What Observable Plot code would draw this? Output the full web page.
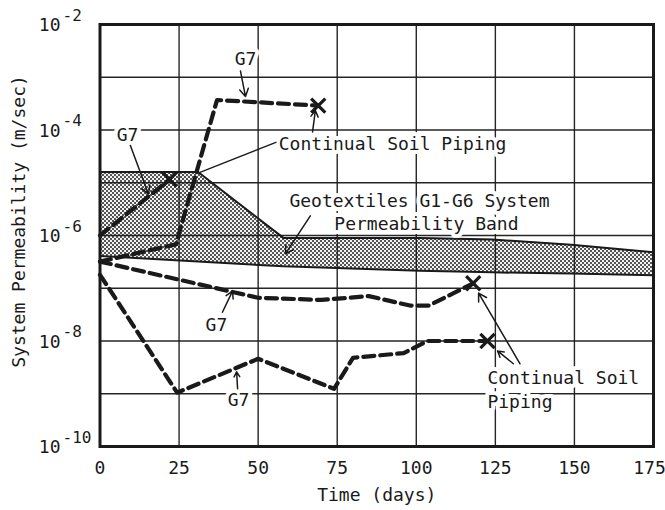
<!DOCTYPE html>
<html><head><meta charset="utf-8">
<script src="https://cdn.jsdelivr.net/npm/d3@7"></script>
<script src="https://cdn.jsdelivr.net/npm/@observablehq/plot@0.6"></script>
<style>body{margin:0;background:#fff} svg{display:block}</style>
</head><body><div id="chart"></div>
<script>
// ---- axes ----
const xTicks = [0, 25, 50, 75, 100, 125, 150, 175];
const xTicksInner = [0, 25, 50, 75, 100, 125, 150];
const xTicksEdge = [175];
const yGrid = [1e-10, 1e-9, 1e-8, 1e-7, 1e-6, 1e-5, 1e-4, 1e-3, 1e-2];
const yLabelTicks = [1e-10, 1e-8, 1e-6, 1e-4, 1e-2];
const yLabelExps = ["-10", "-8", "-6", "-4", "-2"];
const xLabel = "Time (days)";
const yLabel = "System Permeability (m/sec)";

// ---- Geotextiles G1-G6 band ----
const bandDays  = [0, 31, 58, 101, 124, 149, 175];
const bandUpper = [1.6e-5, 1.6e-5, 9e-7, 9e-7, 8.4e-7, 6.7e-7, 4.8e-7];
const bandLower = [4.1e-7, 3.2e-7, 2.6e-7, 2.15e-7, 2.0e-7, 1.9e-7, 1.76e-7];

// ---- G7 test series ----
const g7aDays = [0, 24, 37, 69];
const g7aPerm = [3.2e-7, 6.8e-7, 3.7e-4, 2.9e-4];
const g7bDays = [0, 22];
const g7bPerm = [1.0e-6, 1.15e-5];
const g7cDays = [0, 50, 70, 85, 98, 104, 118];
const g7cPerm = [3.2e-7, 6.6e-8, 6.0e-8, 7.1e-8, 4.7e-8, 4.7e-8, 1.24e-7];
const g7dDays = [0, 24.4, 50, 74, 80, 96, 103.5, 122.5];
const g7dPerm = [1.8e-7, 1.05e-9, 4.6e-9, 1.24e-9, 4.8e-9, 5.9e-9, 1.0e-8, 1.0e-8];

// ---- annotations ----
const noteText   = ["G7", "G7", "Continual Soil Piping", "Geotextiles G1-G6 System", "Permeability Band", "G7", "G7", "Continual Soil", "Piping"];
const noteDay    = [46, 8.7, 92.5, 101, 103.2, 36.8, 43.8, 122.5, 122.5];
const notePerm   = [2.2e-3, 8e-5, 5.4e-5, 4.4e-6, 1.65e-6, 2.0e-8, 7.4e-10, 2.0e-9, 7.0e-10];
const noteAnchor = ["middle", "middle", "middle", "middle", "middle", "middle", "middle", "start", "start"];

const arrowFromDay  = [44.4, 9.6, 67.2, 66.5, 38.7, 43.5, 132.8, 130.7];
const arrowFromPerm = [1.32e-3, 5.1e-5, 9.2e-5, 2.36e-6, 3.5e-8, 1.24e-9, 3.7e-9, 3.7e-9];
const arrowToDay    = [46.0, 15.3, 68.1, 58.6, 41.9, 43.2, 119.7, 125.7];
const arrowToPerm   = [4.3e-4, 6.1e-6, 2.35e-4, 4.5e-7, 8.8e-8, 2.6e-9, 8.1e-8, 6.5e-9];

const leaderFromDay = [55.8], leaderFromPerm = [5.9e-5];
const leaderToDay = [30.8], leaderToPerm = [1.5e-5];

// ---- build tables ----
const band = bandDays.map((d, i) => ({day: d, upper: bandUpper[i], lower: bandLower[i]}));
const mk = (days, perm, id) => days.map((d, i) => ({day: d, perm: perm[i], id}));
const series = [mk(g7aDays, g7aPerm, "a"), mk(g7bDays, g7bPerm, "b"), mk(g7cDays, g7cPerm, "c"), mk(g7dDays, g7dPerm, "d")];
const lines = series.flat();
const piping = series.map(s => s[s.length - 1]);
const notes = noteText.map((t, i) => ({text: t, day: noteDay[i], perm: notePerm[i], anchor: noteAnchor[i]}));
const arrows = arrowFromDay.map((d, i) => ({x1: d, y1: arrowFromPerm[i], x2: arrowToDay[i], y2: arrowToPerm[i]}));
const leaders = leaderFromDay.map((d, i) => ({x1: d, y1: leaderFromPerm[i], x2: leaderToDay[i], y2: leaderToPerm[i]}));
const expLabels = yLabelTicks.map((v, i) => ({v, e: yLabelExps[i]}));

const FONT = "DejaVu Sans Mono";
const INK = "#1a1a1a";

const noteMarks = (anchor) => [
  Plot.text(notes, {filter: d => d.anchor === anchor, x: "day", y: "perm", text: "text", textAnchor: anchor,
    fill: "white", stroke: "white", strokeWidth: 8, fontSize: 18}),
  Plot.text(notes, {filter: d => d.anchor === anchor, x: "day", y: "perm", text: "text", textAnchor: anchor,
    fill: INK, fontSize: 18})
];

const svg = Plot.plot({
  width: 665,
  height: 510,
  marginLeft: 99.5,
  marginRight: 12,
  marginTop: 24,
  marginBottom: 64,
  style: {fontFamily: FONT, fontSize: "18px", color: INK, background: "white"},
  x: {domain: [0, 175]},
  y: {type: "log", domain: [1e-10, 1e-2]},
  marks: [
    Plot.areaY(band, {x: "day", y1: "lower", y2: "upper", fill: "url(#stip)"}),
    Plot.gridX({ticks: xTicks, stroke: INK, strokeOpacity: 0.95, strokeWidth: 1.4}),
    Plot.gridY({ticks: yGrid, stroke: INK, strokeOpacity: 0.95, strokeWidth: 1.4}),
    Plot.line(band, {x: "day", y: "upper", stroke: INK, strokeWidth: 2}),
    Plot.line(band, {x: "day", y: "lower", stroke: INK, strokeWidth: 2}),
    ...noteMarks("middle"),
    ...noteMarks("start"),
    Plot.line(lines, {x: "day", y: "perm", z: "id", stroke: INK, strokeWidth: 4.2, strokeDasharray: "11,6"}),
    Plot.dot(piping, {x: "day", y: "perm", symbol: "times", r: 6.5, stroke: INK, strokeWidth: 3.2}),
    Plot.arrow(arrows, {x1: "x1", y1: "y1", x2: "x2", y2: "y2", stroke: INK, strokeWidth: 1.5, headLength: 9, bend: 0}),
    Plot.link(leaders, {x1: "x1", y1: "y1", x2: "x2", y2: "y2", stroke: INK, strokeWidth: 1.3}),
    Plot.frame({stroke: INK, strokeWidth: 3}),
    Plot.axisX({ticks: xTicksInner, tickSize: 0, tickPadding: 15, fontSize: 18, label: null}),
    Plot.axisX({ticks: xTicksEdge, tickSize: 0, tickPadding: 15, fontSize: 18, dx: -4, label: null}),
    Plot.axisY({ticks: yLabelTicks, tickFormat: () => "10", tickSize: 0, tickPadding: 39.5, fontSize: 18, dy: 1, label: null}),
    Plot.text(expLabels, {y: "v", text: "e", frameAnchor: "left", dx: -37.5, dy: -9, textAnchor: "start", fontSize: 16, fill: INK}),
    Plot.text([xLabel], {text: d => d, frameAnchor: "bottom", dy: 54, textAnchor: "middle", fontSize: 18, fill: INK}),
    Plot.text([yLabel], {text: d => d, frameAnchor: "left", dx: -81, dy: -14, rotate: -90, textAnchor: "middle", fontSize: 18, fill: INK})
  ]
});

const defs = d3.select(svg).insert("defs", ":first-child");
const pat = defs.append("pattern").attr("id", "stip").attr("width", 4).attr("height", 4).attr("patternUnits", "userSpaceOnUse");
pat.append("rect").attr("width", 4).attr("height", 4).attr("fill", "#f2f2f2");
pat.append("rect").attr("width", 2).attr("height", 2).attr("fill", "#555");
pat.append("rect").attr("x", 2).attr("y", 2).attr("width", 2).attr("height", 2).attr("fill", "#555");

document.getElementById("chart").appendChild(svg);
</script>
</body></html>
